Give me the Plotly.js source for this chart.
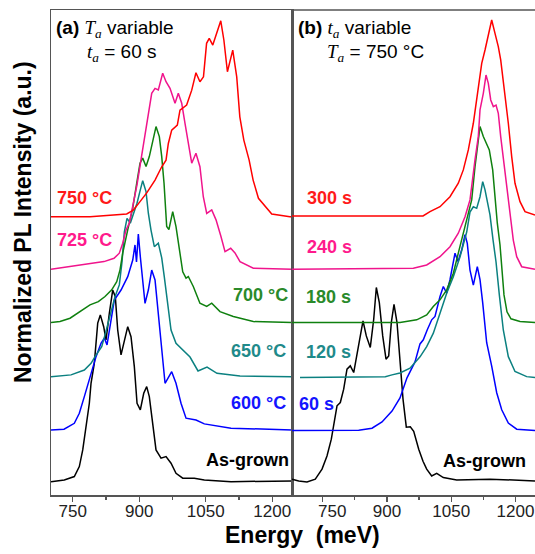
<!DOCTYPE html>
<html>
<head>
<meta charset="utf-8">
<script src="https://cdn.plot.ly/plotly-3.0.1.min.js"></script>
<style>
  html, body { margin: 0; padding: 0; background: #ffffff; }
  #chart { width: 535px; height: 554px; }
</style>
</head>
<body>
<div id="chart"></div>
<script>
// ---------- Panel (a): Ta variable, ta = 60 s ----------
const a_asgrown_E = [701, 731, 753.6, 764.9, 772.6, 780, 787.5, 791.3, 798.7, 806.4, 812.3, 819.9, 825.1, 832.6, 840.2, 846.1, 851.5, 859, 866.4, 874.1, 881.5, 889, 895.1, 902.5, 910.2, 916.9, 922.8, 930.5, 937.9, 949.2, 960.5, 971.8, 983, 998.2, 1024.3, 1046.9, 1107.1, 1245];
const a_asgrown_I = [-0.009, 0, 0.017, 0.068, 0.153, 0.272, 0.391, 0.493, 0.595, 0.8, 0.842, 0.782, 0.714, 0.85, 0.969, 0.935, 0.765, 0.638, 0.714, 0.782, 0.731, 0.578, 0.391, 0.357, 0.442, 0.476, 0.425, 0.272, 0.153, 0.111, 0.119, 0.085, 0.034, 0.009, 0.009, 0, -0.009, -0.005];

const a_600_E = [701, 730.4, 753.6, 764.9, 776.2, 787.5, 795.1, 802.6, 813.8, 821.3, 827.4, 834.8, 843.8, 859, 874.1, 885.4, 890.5, 893.9, 898, 902.5, 907.9, 913.1, 920.6, 928.2, 935.7, 941.8, 949.2, 958.3, 973.3, 983, 994.3, 1005.6, 1028.2, 1046.9, 1107.1, 1245];
const a_600_I = [0, 0.004, 0.034, 0.085, 0.17, 0.255, 0.306, 0.374, 0.442, 0.469, 0.434, 0.544, 0.663, 0.714, 0.782, 0.867, 0.944, 0.857, 1.0, 0.884, 0.748, 0.646, 0.714, 0.816, 0.765, 0.612, 0.459, 0.238, 0.297, 0.238, 0.136, 0.06, 0.051, 0.031, 0.009, 0];

const a_650_E = [701, 746.2, 776.2, 791.3, 800.3, 815.4, 822.9, 834.2, 845.4, 855.1, 861.2, 866.4, 872.5, 879.9, 887.6, 895, 902.5, 907.9, 915.4, 920.6, 926.6, 934.1, 943.1, 950.8, 956.6, 964.3, 971.8, 983, 999.5, 1014.6, 1032.7, 1053, 1075.5, 1127.4, 1245];
const a_650_I = [0, 0.009, 0.034, 0.068, 0.102, 0.153, 0.213, 0.315, 0.408, 0.468, 0.585, 0.738, 0.808, 0.783, 0.834, 0.885, 0.953, 1.0, 0.944, 0.834, 0.748, 0.663, 0.681, 0.606, 0.509, 0.357, 0.238, 0.17, 0.136, 0.1, 0.029, 0.049, 0.017, 0.003, 0];

const a_700_E = [701, 721.3, 743.9, 766.5, 789, 807.8, 822.9, 838, 849.3, 856.7, 862.8, 874.1, 885.4, 894.4, 901.8, 907.9, 915.4, 922.8, 931.8, 937.9, 945.4, 950.8, 956, 962, 967, 975.6, 983, 990.5, 998.2, 1005.6, 1010.8, 1022, 1037, 1052.3, 1063.6, 1082.3, 1112.3, 1157.4, 1245];
const a_700_I = [0, 0.005, 0.022, 0.056, 0.09, 0.107, 0.133, 0.167, 0.209, 0.269, 0.354, 0.473, 0.584, 0.711, 0.813, 0.839, 0.796, 0.847, 0.949, 1.0, 0.949, 0.847, 0.711, 0.49, 0.475, 0.566, 0.49, 0.371, 0.259, 0.227, 0.235, 0.184, 0.099, 0.082, 0.099, 0.056, 0.031, 0.005, 0];

const a_725_E = [701, 768.7, 820.6, 843.2, 855.1, 862.8, 870.2, 877.7, 886, 895, 904, 913, 920.6, 928.2, 935.7, 943.1, 953, 960.5, 969.5, 975.6, 980.8, 988.2, 995.9, 1003.3, 1010.8, 1018.5, 1028, 1037, 1044.6, 1052.3, 1063.6, 1073.3, 1084.6, 1093.6, 1106.4, 1116.1, 1127.4, 1157.4, 1245];
const a_725_I = [0, 0.022, 0.039, 0.056, 0.082, 0.133, 0.2, 0.235, 0.328, 0.43, 0.558, 0.685, 0.796, 0.898, 0.923, 0.915, 1.0, 0.957, 0.923, 0.878, 0.847, 0.898, 0.847, 0.745, 0.643, 0.541, 0.592, 0.523, 0.37, 0.285, 0.303, 0.252, 0.166, 0.09, 0.107, 0.083, 0.039, 0.005, 0];

const a_750_E = [701, 789, 871.8, 886.7, 901.8, 917, 935.7, 950.8, 960.5, 965.7, 973.3, 986, 992, 1007, 1018.5, 1028, 1037, 1045, 1052, 1058, 1066, 1075, 1084, 1091, 1099, 1111, 1120, 1127, 1136, 1148, 1157, 1169, 1184, 1199, 1240, 1245];
const a_750_I = [0, 0, 0.014, 0.034, 0.077, 0.122, 0.187, 0.255, 0.289, 0.374, 0.442, 0.468, 0.544, 0.57, 0.646, 0.735, 0.689, 0.714, 0.885, 0.91, 0.876, 0.936, 1.0, 0.902, 0.74, 0.85, 0.714, 0.51, 0.391, 0.289, 0.187, 0.094, 0.051, 0.014, 0, 0];

// ---------- Panel (b): ta variable, Ta = 750 C ----------
const b_asgrown_E = [678.3, 694, 713.3, 732.7, 748.4, 760, 770.1, 778, 783.4, 791.1, 799, 806.7, 814.4, 822.4, 834.1, 844.1, 851.8, 861.1, 869.1, 875.2, 882.2, 890.1, 897.8, 904.1, 910.2, 916.5, 923.5, 929.8, 937.5, 945.2, 954.5, 962.5, 974.2, 984.2, 992.8, 1004.5, 1016.2, 1031.6, 1062.9, 1140.6, 1245.7];
const b_asgrown_I = [0.004, -0.005, -0.01, 0.004, 0.055, 0.122, 0.208, 0.31, 0.378, 0.395, 0.463, 0.565, 0.582, 0.548, 0.701, 0.811, 0.735, 0.676, 0.82, 0.982, 0.905, 0.735, 0.616, 0.633, 0.803, 0.896, 0.803, 0.616, 0.412, 0.269, 0.271, 0.248, 0.157, 0.095, 0.055, 0.02, 0.033, 0.012, 0, 0.004, -0.005];

const b_60_E = [678.3, 834.1, 865.1, 888.5, 911.8, 930.5, 946.8, 965.5, 977.2, 984.9, 994.2, 1004.5, 1012.2, 1023.9, 1031.6, 1039.5, 1047.2, 1058.9, 1065.9, 1074.6, 1082.3, 1087.6, 1093.9, 1101.7, 1111, 1117.3, 1123.6, 1132.9, 1144.6, 1156.3, 1168, 1183.4, 1203, 1245.7];
const b_60_I = [0, 0.001, 0.012, 0.044, 0.099, 0.166, 0.269, 0.35, 0.442, 0.463, 0.514, 0.565, 0.582, 0.684, 0.735, 0.701, 0.77, 0.905, 0.862, 0.922, 1.0, 0.955, 0.819, 0.742, 0.836, 0.77, 0.651, 0.448, 0.329, 0.193, 0.106, 0.038, 0.007, 0];

const b_120_E = [697, 834.1, 896.2, 911.8, 930.5, 953.8, 977.2, 992.8, 1008.3, 1023.9, 1039.5, 1055, 1070.7, 1086.2, 1093.9, 1101.7, 1109.6, 1117.3, 1123.6, 1129, 1134.3, 1140.6, 1147.7, 1154.7, 1162.4, 1171.7, 1183.4, 1199, 1226.3, 1245.7];
const b_120_I = [0, 0.002, 0.005, 0.014, 0.024, 0.048, 0.106, 0.158, 0.227, 0.329, 0.431, 0.515, 0.617, 0.743, 0.845, 0.872, 0.864, 0.923, 1.0, 0.958, 0.89, 0.83, 0.703, 0.59, 0.422, 0.243, 0.107, 0.031, 0.005, 0];

const b_180_E = [678.3, 930.5, 969.5, 992.8, 1008.2, 1023.9, 1039.5, 1055, 1066.6, 1078.3, 1090, 1097.9, 1105.6, 1111.9, 1117.3, 1125, 1132.9, 1139, 1146.9, 1152.3, 1157.7, 1164, 1168.7, 1173.3, 1180.3, 1189.6, 1210.7, 1245.7];
const b_180_I = [0, 0, 0.014, 0.039, 0.082, 0.116, 0.167, 0.252, 0.354, 0.456, 0.558, 0.626, 0.796, 0.915, 1.0, 0.949, 0.915, 0.881, 0.779, 0.626, 0.507, 0.396, 0.269, 0.141, 0.055, 0.019, 0.005, 0];

const b_240_E = [678.3, 961.6, 992.8, 1023.9, 1047.2, 1066.6, 1082.3, 1093.9, 1105.6, 1113.3, 1117.3, 1125, 1131.3, 1136.7, 1142.3, 1148.4, 1154.7, 1160, 1165.6, 1173.3, 1179.6, 1187.3, 1195, 1203, 1214.7, 1245.7];
const b_240_I = [0, 0.005, 0.022, 0.064, 0.115, 0.184, 0.268, 0.354, 0.558, 0.677, 0.813, 0.898, 0.991, 0.949, 0.864, 0.83, 0.838, 0.796, 0.677, 0.541, 0.405, 0.268, 0.149, 0.064, 0.013, 0];

const b_300_E = [678.3, 984.2, 1000.5, 1023.9, 1047.2, 1066.6, 1078.3, 1090, 1101.7, 1113.3, 1121.3, 1129, 1136.7, 1144.6, 1152.3, 1160, 1165.6, 1175.7, 1183.4, 1191.3, 1199, 1210.7, 1222.4, 1245.7];
const b_300_I = [0, 0, 0.022, 0.047, 0.098, 0.167, 0.235, 0.337, 0.473, 0.643, 0.779, 0.847, 0.932, 1.0, 0.932, 0.864, 0.796, 0.626, 0.473, 0.303, 0.167, 0.073, 0.022, 0.005];

// stacking offsets (normalized units), bottom to top
const a_offsets = [0, 0.255, 0.527, 0.803, 1.075, 1.343];
const b_offsets = [0, 0.252, 0.522, 0.803, 1.075, 1.347];

const a_labels = ['As-grown', '600 °C', '650 °C', '700 °C', '725 °C', '750 °C'];
const b_labels = ['As-grown', '60 s', '120 s', '180 s', '240 s', '300 s'];

const xTicks = [750, 900, 1050, 1200];
const xMinorTicks = [825, 975, 1125];

// ---------- styling ----------
const lineColors = ['#000000', '#0000ff', '#0b8080', '#0f800f', '#f0148c', '#ff0000'];
const textColors = ['#000000', '#1414ff', '#1f8a8a', '#2a8a2a', '#ff1a8c', '#ff1a1a'];
const SANS = 'Arial, "Liberation Sans", sans-serif';

const aE = [a_asgrown_E, a_600_E, a_650_E, a_700_E, a_725_E, a_750_E];
const aI = [a_asgrown_I, a_600_I, a_650_I, a_700_I, a_725_I, a_750_I];
const bE = [b_asgrown_E, b_60_E, b_120_E, b_180_E, b_240_E, b_300_E];
const bI = [b_asgrown_I, b_60_I, b_120_I, b_180_I, b_240_I, b_300_I];

const traces = [];
for (let k = 0; k < 6; k++) {
  traces.push({
    x: aE[k], y: aI[k].map(v => v + a_offsets[k]),
    xaxis: 'x', yaxis: 'y', type: 'scatter', mode: 'lines',
    line: {color: lineColors[k], width: 1.5}, name: a_labels[k], hoverinfo: 'skip'
  });
}
for (let k = 0; k < 6; k++) {
  traces.push({
    x: bE[k], y: bI[k].map(v => v + b_offsets[k]),
    xaxis: 'x2', yaxis: 'y2', type: 'scatter', mode: 'lines',
    line: {color: lineColors[k], width: 1.5}, name: b_labels[k], hoverinfo: 'skip'
  });
}

const L = 51, T = 10, W = 484, H = 485;
const px = v => (v - L) / W;
const py = v => (T + H - v) / H;
const splitX = px(292);

const axisLine = '#555555';
const xCommon = {
  tickmode: 'array', tickvals: xTicks,
  ticks: 'outside', ticklen: 5, tickwidth: 1.2, tickcolor: axisLine,
  showline: true, linecolor: axisLine, linewidth: 1.5, mirror: true,
  showgrid: false, zeroline: false, ticklabelstandoff: -5,
  tickfont: {family: SANS, size: 17, color: '#222222'},
  minor: {tickvals: xMinorTicks, ticks: 'outside', ticklen: 3, tickcolor: axisLine, tickwidth: 1.2}
};

const yRange = [-0.077, 2.398];

const it = s => '<span style="font-family:' + "'Liberation Serif',serif" + '"><i>' + s + '</i></span>';

const ann = [];
function addText(text, x, y, xanchor, color, size, bold) {
  ann.push({
    text: bold ? '<b>' + text + '</b>' : text,
    xref: 'paper', yref: 'paper', x: x, y: y,
    xanchor: xanchor, yanchor: 'middle', showarrow: false,
    font: {family: SANS, size: size, color: color}
  });
}
// panel headers
addText('<b>(a)</b> ' + it('T') + '<sub>' + it('a') + '</sub> variable', px(54), py(29), 'left', '#000', 19, false);
addText(it('t') + '<sub>' + it('a') + '</sub> = 60 s', px(85), py(53), 'left', '#000', 19, false);
addText('<b>(b)</b> ' + it('t') + '<sub>' + it('a') + '</sub> variable', px(296), py(29), 'left', '#000', 19, false);
addText(it('T') + '<sub>' + it('a') + '</sub> = 750 °C', px(325), py(53), 'left', '#000', 19, false);

// series labels panel a
addText(a_labels[5], px(55), py(198), 'left', textColors[5], 18, true);
addText(a_labels[4], px(55), py(240), 'left', textColors[4], 18, true);
addText(a_labels[3], px(290), py(295), 'right', textColors[3], 18, true);
addText(a_labels[2], px(288), py(351), 'right', textColors[2], 18, true);
addText(a_labels[1], px(288), py(403), 'right', textColors[1], 18, true);
addText(a_labels[0], px(291), py(460), 'right', textColors[0], 18, true);
// series labels panel b
addText(b_labels[5], px(305), py(198), 'left', textColors[5], 18, true);
addText(b_labels[4], px(305), py(247), 'left', textColors[4], 18, true);
addText(b_labels[3], px(304), py(297), 'left', textColors[3], 18, true);
addText(b_labels[2], px(304), py(352), 'left', textColors[2], 18, true);
addText(b_labels[1], px(297), py(404), 'left', textColors[1], 18, true);
addText(b_labels[0], px(528), py(461), 'right', textColors[0], 18, true);

// axis titles
addText('Energy\u00a0\u00a0(meV)', px(302), py(535), 'center', '#000', 23, true);
ann.push({
  text: '<b>Normalized PL Intensity (a.u.)</b>', xref: 'paper', yref: 'paper',
  x: px(23), y: py(222), xanchor: 'center', yanchor: 'middle', textangle: -90,
  showarrow: false, font: {family: SANS, size: 23, color: '#000'}
});

const layout = {
  width: 535, height: 554,
  margin: {l: L, r: 0, t: T, b: 554 - T - H},
  paper_bgcolor: '#ffffff', plot_bgcolor: '#ffffff',
  showlegend: false,
  xaxis: Object.assign({}, xCommon, {domain: [0, splitX], range: [701, 1244.7], anchor: 'y',
           ticktext: xTicks.map(String)}),
  xaxis2: Object.assign({}, xCommon, {domain: [splitX, 1], range: [678.3, 1245.7], anchor: 'y2', mirror: false,
           ticktext: xTicks.map((v, i) => i === 0 ? '\u2007\u2007' + v : String(v))}),
  yaxis: {domain: [0, 1], range: yRange, anchor: 'x', showticklabels: false, ticks: '',
          showline: true, mirror: true, linecolor: axisLine, linewidth: 1.5, showgrid: false, zeroline: false},
  yaxis2: {domain: [0, 1], range: yRange, anchor: 'x2', showticklabels: false, ticks: '',
           showline: true, mirror: false, linecolor: axisLine, linewidth: 1.5, showgrid: false, zeroline: false},
  shapes: [
    {type: 'line', xref: 'paper', yref: 'paper', x0: splitX, x1: 1, y0: 1, y1: 1,
     line: {color: axisLine, width: 1.5}}
  ],
  annotations: ann
};

Plotly.newPlot('chart', traces, layout, {staticPlot: true, displayModeBar: false});
</script>
</body>
</html>
